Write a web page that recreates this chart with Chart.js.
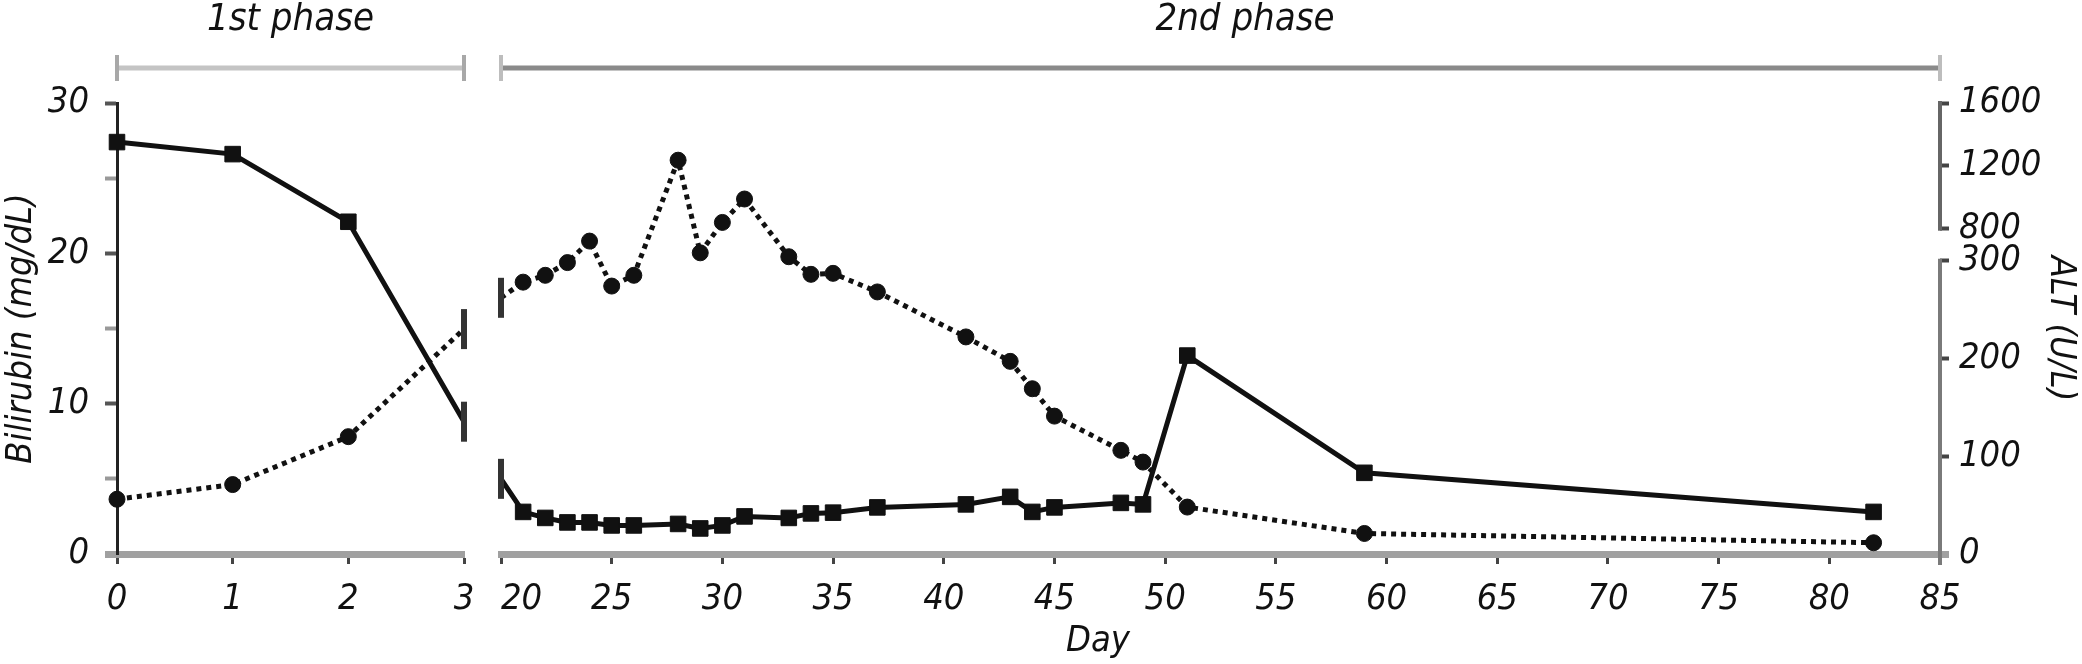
<!DOCTYPE html>
<html>
<head>
<meta charset="utf-8">
<script src="https://cdn.jsdelivr.net/npm/chart.js@4.4.0/dist/chart.umd.min.js"></script>
<style>
  html, body { margin: 0; padding: 0; background: #fff; }
  #wrap { position: relative; width: 2082px; height: 664px; background: #fff; }
  #wrap canvas { position: absolute; top: 0; }
</style>
</head>
<body>
<div id="wrap">
  <canvas id="left" width="490" height="664" style="left:0"></canvas>
  <canvas id="right" width="1642" height="664" style="left:440px"></canvas>
</div>
<script>
// phase 1 (days 0-3), last point = where the line runs into the axis break
var phase1Days = [0, 1, 2, 3];
var phase1Bilirubin = [27.4, 26.6, 22.1, 8.8];
var phase1Alt = [56, 71, 120, 230];

// phase 2 (day 20 on), first point = where the line comes out of the break
var phase2Days = [20, 21, 22, 23, 24, 25, 26, 28, 29, 30, 31, 33, 34, 35, 37, 41, 43, 44, 45, 48, 49, 51, 59, 82];
var phase2Bilirubin = [5.0, 2.8, 2.4, 2.1, 2.1, 1.9, 1.9, 2.0, 1.7, 1.9, 2.5, 2.4, 2.7, 2.75, 3.1, 3.3, 3.8, 2.8, 3.1, 3.4, 3.3, 13.2, 5.4, 2.8];
var phase2Alt = [262, 278, 285, 298, 320, 274, 285, 1236, 308, 840, 989, 304, 286, 287, 268, 222, 197, 169, 141, 106, 94, 48, 21, 11.5];

var dayTicksLeft = [0, 1, 2, 3];
var dayTicksRight = [20, 25, 30, 35, 40, 45, 50, 55, 60, 65, 70, 75, 80, 85];
var bilirubinTicks = [0, 5, 10, 15, 20, 25, 30];
var altTicks = [0, 100, 200, 300, 800, 1200, 1600];

// ALT axis is broken: lower part linear up to the break, upper part compressed
var ALT_BREAK = 332.65;
function altAxis(v) {
  if (v <= ALT_BREAK) return v;
  if (v < 800) return ALT_BREAK;
  return ALT_BREAK + (v - 800) * 0.1607;
}
var ALT_MAX = altAxis(1600);

var FONT = "'Liberation Sans Narrow', 'DejaVu Sans Condensed', 'Arial Narrow', sans-serif";
Chart.defaults.font.family = FONT;
Chart.defaults.font.style = 'italic';
Chart.defaults.font.size = 36;
Chart.defaults.color = '#111';

function pts(days, vals, f) {
  return days.map(function (d, i) { return { x: d, y: f ? f(vals[i]) : vals[i] }; });
}

function seriesStyle(kind, edgeIndex) {
  var isEdge = function (ctx) { return ctx.dataIndex === edgeIndex; };
  return {
    borderColor: '#111',
    backgroundColor: '#111',
    borderWidth: 5,
    borderDash: kind === 'alt' ? [5, 5] : [],
    tension: 0,
    clip: false,
    pointStyle: function (ctx) { return isEdge(ctx) ? 'line' : (kind === 'alt' ? 'circle' : 'rect'); },
    pointRotation: function (ctx) { return isEdge(ctx) ? 90 : 0; },
    pointRadius: function (ctx) { return isEdge(ctx) ? 20 : (kind === 'alt' ? 8 : 11); },
    pointBorderWidth: function (ctx) { return isEdge(ctx) ? 6 : 1; },
    pointBorderColor: function (ctx) { return isEdge(ctx) ? '#333' : '#111'; }
  };
}

function phaseBar(from, to, label, labelX, barColor, capColor) {
  return {
    id: 'phase' + from,
    afterDraw: function (chart) {
      var ctx = chart.ctx;
      var x = chart.scales.x;
      var x0 = x.getPixelForValue(from), x1 = x.getPixelForValue(to);
      ctx.save();
      ctx.strokeStyle = barColor;
      ctx.lineWidth = 5;
      ctx.beginPath(); ctx.moveTo(x0, 68); ctx.lineTo(x1, 68); ctx.stroke();
      ctx.strokeStyle = capColor;
      ctx.lineWidth = 4;
      ctx.beginPath();
      ctx.moveTo(x0, 55); ctx.lineTo(x0, 81);
      ctx.moveTo(x1, 55); ctx.lineTo(x1, 81);
      ctx.stroke();
      ctx.fillStyle = '#111';
      ctx.font = 'italic 38px ' + FONT;
      ctx.textAlign = 'center';
      ctx.textBaseline = 'middle';
      ctx.fillText(label, labelX === null ? (x0 + x1) / 2 : labelX, 20);
      ctx.restore();
    }
  };
}

var xBorder = { color: '#a0a0a0', width: 7 };
function xGrid() {
  return { drawOnChartArea: false, tickLength: 10, tickColor: '#444', tickWidth: 3 };
}
function noEdgePadding(s) { s.height = 110; s.paddingLeft = 0; s.paddingRight = 0; }

// ---- left panel: 1st phase
new Chart(document.getElementById('left'), {
  type: 'line',
  data: {
    datasets: [
      Object.assign({ label: 'Bilirubin', yAxisID: 'bili', data: pts(phase1Days, phase1Bilirubin) }, seriesStyle('bili', 3)),
      Object.assign({ label: 'ALT', yAxisID: 'alt', data: pts(phase1Days, phase1Alt, altAxis) }, seriesStyle('alt', 3))
    ]
  },
  options: {
    responsive: false,
    animation: false,
    layout: { padding: { top: 103, right: 15, left: 0, bottom: 0 } },
    plugins: { legend: { display: false }, tooltip: { enabled: false } },
    scales: {
      x: {
        type: 'linear', min: 0, max: 3,
        afterBuildTicks: function (s) { s.ticks = dayTicksLeft.map(function (v) { return { value: v }; }); },
        afterFit: noEdgePadding,
        grid: xGrid(),
        border: xBorder,
        ticks: { padding: 14, maxRotation: 0 }
      },
      bili: {
        position: 'left', min: 0, max: 30,
        afterBuildTicks: function (s) { s.ticks = bilirubinTicks.map(function (v) { return { value: v }; }); },
        afterFit: function (s) { s.width = 117; },
        title: { display: true, text: 'Bilirubin (mg/dL)', padding: { top: 0, bottom: 4 } },
        border: { color: '#222', width: 3 },
        grid: {
          drawOnChartArea: false, tickLength: 12,
          tickColor: function (c) { return c.tick.value === 0 ? '#a0a0a0' : (c.tick.value % 10 ? '#999' : '#555'); },
          tickWidth: function (c) { return c.tick.value === 0 ? 7 : 4; }
        },
        ticks: {
          padding: 16, autoSkip: false,
          callback: function (v) { return v % 10 === 0 ? v : ''; }
        }
      },
      alt: { display: false, min: 0, max: ALT_MAX }
    }
  },
  plugins: [phaseBar(0, 3, '1st phase', null, '#c4c4c4', '#a8a8a8')]
});

// ---- right panel: 2nd phase
var RIGHT_LEFT = 440;
var altAxisLine = {
  id: 'altAxisLine',
  afterDraw: function (chart) {
    var s = chart.scales.alt, ctx = chart.ctx;
    var x = chart.chartArea.right;
    ctx.save();
    ctx.lineWidth = 4;
    ctx.strokeStyle = '#7a7a7a';
    ctx.beginPath(); ctx.moveTo(x, s.getPixelForValue(0) + 11); ctx.lineTo(x, s.getPixelForValue(300) - 2); ctx.stroke();
    ctx.strokeStyle = '#666';
    ctx.beginPath(); ctx.moveTo(x, s.getPixelForValue(altAxis(800)) + 2); ctx.lineTo(x, s.getPixelForValue(altAxis(1600)) - 2); ctx.stroke();
    // x axis title
    ctx.fillStyle = '#111';
    ctx.font = 'italic 36px ' + FONT;
    ctx.textAlign = 'center';
    ctx.textBaseline = 'middle';
    ctx.fillText('Day', 1098 - RIGHT_LEFT, 642);
    ctx.restore();
  }
};

new Chart(document.getElementById('right'), {
  type: 'line',
  data: {
    datasets: [
      Object.assign({ label: 'Bilirubin', yAxisID: 'bili', data: pts(phase2Days, phase2Bilirubin) }, seriesStyle('bili', 0)),
      Object.assign({ label: 'ALT', yAxisID: 'alt', data: pts(phase2Days, phase2Alt, altAxis) }, seriesStyle('alt', 0))
    ]
  },
  options: {
    responsive: false,
    animation: false,
    layout: { padding: { top: 103, right: 0, left: 501 - RIGHT_LEFT, bottom: 0 } },
    plugins: { legend: { display: false }, tooltip: { enabled: false } },
    scales: {
      x: {
        type: 'linear', min: 20, max: 85,
        afterBuildTicks: function (s) { s.ticks = dayTicksRight.map(function (v) { return { value: v }; }); },
        afterFit: noEdgePadding,
        grid: xGrid(),
        border: xBorder,
        ticks: {
          padding: 14, maxRotation: 0, autoSkip: false,
          // the "20" label is nudged right, clear of the "3"
          callback: function (v) { return v === 20 ? '\u2007\u200720' : v; }
        }
      },
      bili: { display: false, min: 0, max: 30 },
      alt: {
        position: 'right', min: 0, max: ALT_MAX,
        afterBuildTicks: function (s) { s.ticks = altTicks.map(function (v) { return { value: altAxis(v) }; }); },
        afterFit: function (s) { s.width = 142; },
        title: { display: true, text: 'ALT (U/L)', padding: { top: 0, bottom: 2 } },
        border: { display: false },
        grid: {
          drawOnChartArea: false, tickLength: 9,
          tickColor: function (c) { return c.tick.value === 0 ? '#a0a0a0' : '#444'; },
          tickWidth: function (c) { return c.tick.value === 0 ? 7 : 4; }
        },
        ticks: {
          padding: 10, autoSkip: false,
          callback: function (v, i) { return altTicks[i]; }
        }
      }
    }
  },
  plugins: [phaseBar(20, 85, '2nd phase', 1245 - RIGHT_LEFT, '#8a8a8a', '#bdbdbd'), altAxisLine]
});
</script>
</body>
</html>
